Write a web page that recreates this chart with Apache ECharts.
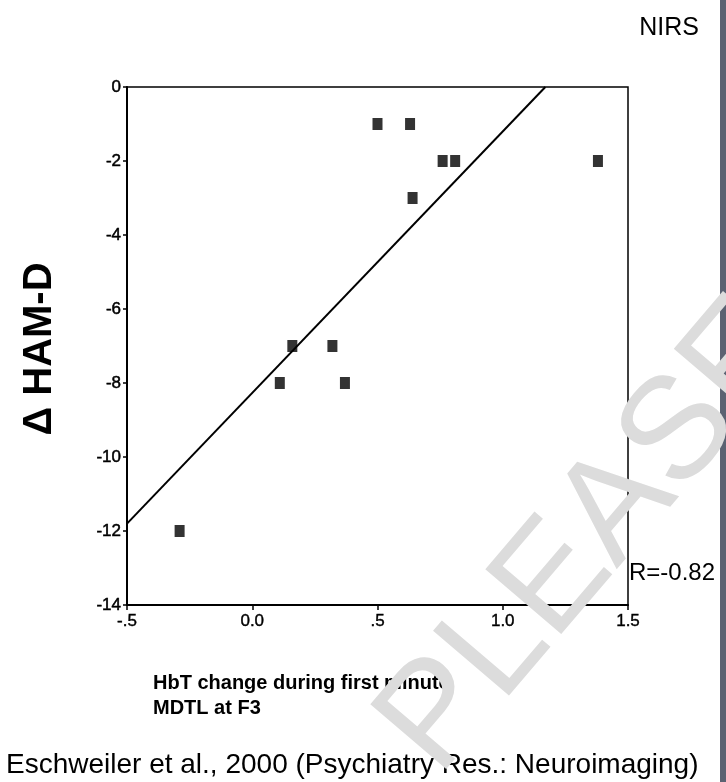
<!DOCTYPE html>
<html>
<head>
<meta charset="utf-8">
<script src="https://cdn.jsdelivr.net/npm/echarts@6/dist/echarts.min.js"></script>
<style>
html,body{margin:0;padding:0;background:#fff;}
#c{width:726px;height:782px;}
</style>
</head>
<body>
<div id="c"></div>
<script>
// Data
const hbtChange = [-0.29, 0.11, 0.16, 0.32, 0.37, 0.50, 0.63, 0.64, 0.76, 0.81, 1.38];
const hamdChange = [-12, -8, -7, -7, -8, -1, -1, -3, -2, -2, -2];
const fitX = [-0.5, 1.17];
const fitY = [-11.8, 0];
const xTickValues = [-0.5, 0, 0.5, 1, 1.5];
const xTickLabels = ['-.5', '0.0', '.5', '1.0', '1.5'];
const yTickValues = [-14, -12, -10, -8, -6, -4, -2, 0];
const yTickLabels = ['-14', '-12', '-10', '-8', '-6', '-4', '-2', '0'];

const points = hbtChange.map((x, i) => [x, hamdChange[i]]);
const fitLine = fitX.map((x, i) => [x, fitY[i]]);

const FONT = '"Liberation Sans", Arial, sans-serif';
const chart = echarts.init(document.getElementById('c'));

function labelFor(values, labels) {
  return function (v) {
    for (let i = 0; i < values.length; i++) {
      if (Math.abs(values[i] - v) < 1e-9) return labels[i];
    }
    return '';
  };
}

chart.setOption({
  backgroundColor: '#fff',
  animation: false,
  grid: {
    left: 127, top: 87, width: 501, height: 518,
    show: true, borderColor: '#000', borderWidth: 1.5, backgroundColor: 'transparent'
  },
  xAxis: {
    type: 'value', min: -0.5, max: 1.5, interval: 0.5,
    axisLine: { show: true, onZero: false, lineStyle: { color: '#000', width: 2 } },
    axisTick: { show: true, length: 5, lineStyle: { color: '#000', width: 1.5 } },
    splitLine: { show: false },
    axisLabel: {
      color: '#000', fontFamily: FONT, fontSize: 17, margin: 8,
      textBorderColor: '#000', textBorderWidth: 0.4,
      formatter: labelFor(xTickValues, xTickLabels)
    }
  },
  yAxis: {
    type: 'value', min: -14, max: 0, interval: 2,
    axisLine: { show: true, onZero: false, lineStyle: { color: '#000', width: 2 } },
    axisTick: { show: true, length: 4, lineStyle: { color: '#000', width: 1.5 } },
    splitLine: { show: false },
    axisLabel: {
      color: '#000', fontFamily: FONT, fontSize: 17, margin: 6,
      textBorderColor: '#000', textBorderWidth: 0.5,
      formatter: labelFor(yTickValues, yTickLabels)
    }
  },
  series: [
    {
      type: 'line', data: fitLine, showSymbol: false, symbol: 'none',
      lineStyle: { color: '#000', width: 2 }, z: 2, silent: true
    },
    {
      type: 'scatter', data: points, symbol: 'rect', symbolSize: [10, 12],
      itemStyle: { color: '#000' }, z: 3, silent: true
    }
  ],
  graphic: [
    {
      type: 'rect', shape: { x: 720, y: 0, width: 6, height: 782 }, silent: true,
      style: { fill: '#5b6272' }
    },
    {
      type: 'text', x: 699, y: 28, silent: true,
      style: { text: 'NIRS', fontSize: 25, fontFamily: FONT, fill: '#000', textAlign: 'right', textVerticalAlign: 'middle' }
    },
    {
      type: 'text', x: 40, y: 349, rotation: Math.PI / 2, silent: true,
      style: { text: 'Δ HAM-D', fontSize: 40, fontWeight: 'bold', fontFamily: FONT, fill: '#000', textAlign: 'center', textVerticalAlign: 'middle' }
    },
    {
      type: 'text', x: 629, y: 573, silent: true,
      style: { text: 'R=-0.82', fontSize: 24, fontFamily: FONT, fill: '#000', textAlign: 'left', textVerticalAlign: 'middle' }
    },
    {
      type: 'text', x: 153, y: 683, silent: true,
      style: { text: 'HbT change during first minute', fontSize: 20, fontWeight: 'bold', fontFamily: FONT, fill: '#000', textAlign: 'left', textVerticalAlign: 'middle' }
    },
    {
      type: 'text', x: 153, y: 708, silent: true,
      style: { text: 'MDTL at F3', fontSize: 20, fontWeight: 'bold', fontFamily: FONT, fill: '#000', textAlign: 'left', textVerticalAlign: 'middle' }
    },
    {
      type: 'text', x: 6, y: 765, silent: true,
      style: { text: 'Eschweiler et al., 2000 (Psychiatry Res.: Neuroimaging)', fontSize: 28, fontFamily: FONT, fill: '#000', textAlign: 'left', textVerticalAlign: 'middle' }
    },
    {
      type: 'text', x: 408, y: 752, rotation: 49.5 * Math.PI / 180, z: 100, silent: true,
      style: { text: 'PLEASE', fontSize: 145, fontFamily: FONT, fontWeight: 'normal',
        fill: '#dcdcdc', textAlign: 'left', textVerticalAlign: 'middle' }
    }
  ]
});
</script>
</body>
</html>
